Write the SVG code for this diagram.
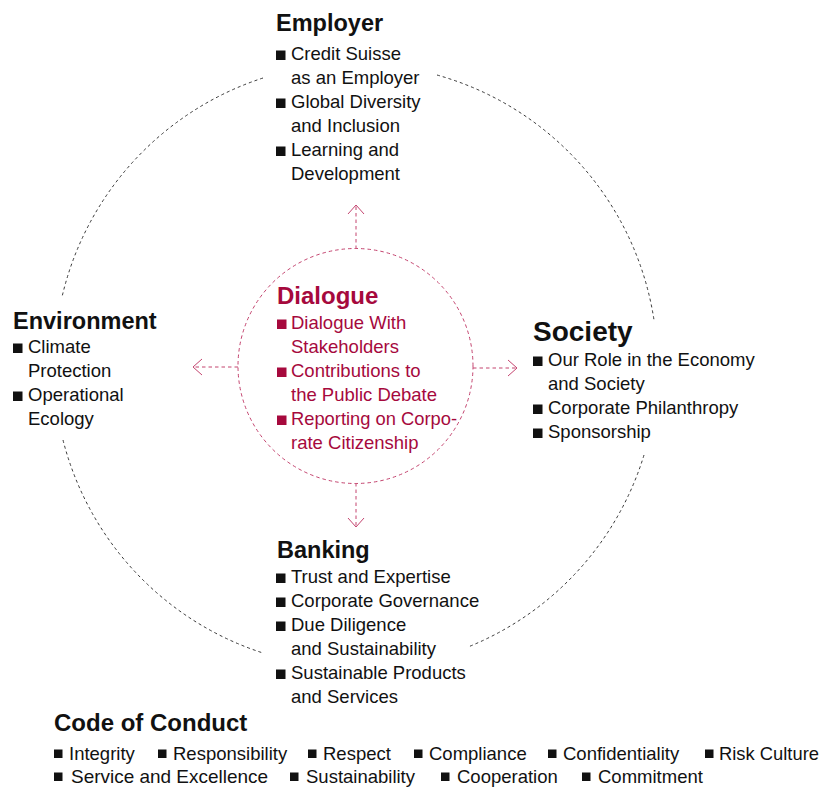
<svg xmlns="http://www.w3.org/2000/svg" width="835" height="787" viewBox="0 0 835 787">
<style>
.h{font-family:"Liberation Sans",Arial,sans-serif;font-weight:bold;fill:#111}
.t{font-family:"Liberation Sans",Arial,sans-serif;font-size:18.5px;fill:#111}
.r{fill:#a6093d}
.big{fill:none;stroke:#222;stroke-width:0.9;stroke-dasharray:3 3}
.dl{fill:none;stroke:#c4446f;stroke-width:1;stroke-dasharray:3.5 3}
.ah{fill:none;stroke:#c4446f;stroke-width:1}
</style>
<defs>
<rect id="b" width="9.5" height="9.5" fill="#111"/>
<rect id="rb" width="9.5" height="9.5" fill="#a6093d"/>
<rect id="sb" width="8.5" height="8.5" fill="#111"/>
</defs>
<rect width="835" height="787" fill="#fff"/>
<g id="connectors">
<path class="big" d="M263,78 A302,302 0 0 0 62,297"/>
<path class="big" d="M437,75 A302,302 0 0 1 654,320"/>
<path class="big" d="M644,455 A302,302 0 0 1 468,647"/>
<path class="big" d="M63,440 A302,302 0 0 0 263,653"/>
<circle class="dl" cx="355.5" cy="366" r="117.5"/>
<line class="dl" x1="356" y1="249" x2="356" y2="206"/>
<polyline class="ah" points="348,214 356,205 364,214"/>
<line class="dl" x1="356" y1="483" x2="356" y2="526"/>
<polyline class="ah" points="348,518 356,527 364,518"/>
<line class="dl" x1="238" y1="367" x2="194" y2="367"/>
<polyline class="ah" points="202,359 193,367 202,375"/>
<line class="dl" x1="473" y1="368" x2="516" y2="368"/>
<polyline class="ah" points="508,360 517,368 508,376"/>
</g>
<g id="employer">
<text class="h" x="276" y="31" font-size="23.5">Employer</text>
<use href="#b" x="276" y="50.5"/><text class="t" x="291" y="60">Credit Suisse</text>
<text class="t" x="291" y="84">as an Employer</text>
<use href="#b" x="276" y="98.5"/><text class="t" x="291" y="108">Global Diversity</text>
<text class="t" x="291" y="132">and Inclusion</text>
<use href="#b" x="276" y="146.5"/><text class="t" x="291" y="156">Learning and</text>
<text class="t" x="291" y="180">Development</text>
</g>
<g id="environment">
<text class="h" x="13" y="329" font-size="23.5">Environment</text>
<use href="#b" x="13" y="343.5"/><text class="t" x="28" y="353">Climate</text>
<text class="t" x="28" y="377">Protection</text>
<use href="#b" x="13" y="391.5"/><text class="t" x="28" y="401">Operational</text>
<text class="t" x="28" y="425">Ecology</text>
</g>
<g id="dialogue">
<text class="h r" x="277" y="304" font-size="24">Dialogue</text>
<use href="#rb" x="277" y="319.5"/><text class="t r" x="291" y="329">Dialogue With</text>
<text class="t r" x="291" y="353">Stakeholders</text>
<use href="#rb" x="277" y="367.5"/><text class="t r" x="291" y="377">Contributions to</text>
<text class="t r" x="291" y="401">the Public Debate</text>
<use href="#rb" x="277" y="415.5"/><text class="t r" x="291" y="425" textLength="166" lengthAdjust="spacingAndGlyphs">Reporting on Corpo-</text>
<text class="t r" x="291" y="449">rate Citizenship</text>
</g>
<g id="society">
<text class="h" x="533" y="341" font-size="28">Society</text>
<use href="#b" x="533" y="356.5"/><text class="t" x="548" y="366">Our Role in the Economy</text>
<text class="t" x="548" y="390">and Society</text>
<use href="#b" x="533" y="404.5"/><text class="t" x="548" y="414">Corporate Philanthropy</text>
<use href="#b" x="533" y="428.5"/><text class="t" x="548" y="438">Sponsorship</text>
</g>
<g id="banking">
<text class="h" x="277" y="558" font-size="23.5">Banking</text>
<use href="#b" x="276" y="573.5"/><text class="t" x="291" y="583">Trust and Expertise</text>
<use href="#b" x="276" y="597.5"/><text class="t" x="291" y="607">Corporate Governance</text>
<use href="#b" x="276" y="621.5"/><text class="t" x="291" y="631">Due Diligence</text>
<text class="t" x="291" y="655">and Sustainability</text>
<use href="#b" x="276" y="669.5"/><text class="t" x="291" y="679">Sustainable Products</text>
<text class="t" x="291" y="703">and Services</text>
</g>
<g id="code-of-conduct">
<text class="h" x="54" y="731" font-size="24">Code of Conduct</text>
<use href="#sb" x="54" y="749.5"/><text class="t" x="69" y="760">Integrity</text>
<use href="#sb" x="158" y="749.5"/><text class="t" x="173" y="760">Responsibility</text>
<use href="#sb" x="308" y="749.5"/><text class="t" x="323" y="760">Respect</text>
<use href="#sb" x="414" y="749.5"/><text class="t" x="429" y="760">Compliance</text>
<use href="#sb" x="548" y="749.5"/><text class="t" x="563" y="760">Confidentiality</text>
<use href="#sb" x="705" y="749.5"/><text class="t" x="719" y="760" textLength="100" lengthAdjust="spacingAndGlyphs">Risk Culture</text>
<use href="#sb" x="54" y="772.5"/><text class="t" x="71" y="783" textLength="197" lengthAdjust="spacingAndGlyphs">Service and Excellence</text>
<use href="#sb" x="290" y="772.5"/><text class="t" x="306" y="783">Sustainability</text>
<use href="#sb" x="441" y="772.5"/><text class="t" x="457" y="783">Cooperation</text>
<use href="#sb" x="582" y="772.5"/><text class="t" x="598" y="783">Commitment</text>
</g>
</svg>
